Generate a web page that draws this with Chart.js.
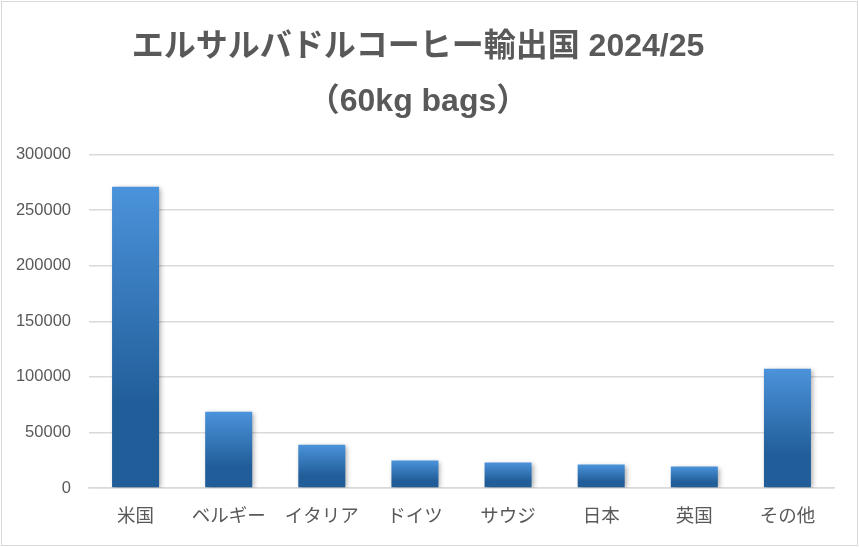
<!DOCTYPE html>
<html>
<head>
<meta charset="utf-8">
<script src="https://cdn.jsdelivr.net/npm/chart.js@4/dist/chart.umd.min.js"></script>
<style>
  html, body { margin: 0; padding: 0; background: #fff; }
  #wrap {
    position: relative;
    width: 855px;
    height: 543px;
    margin: 1px;
    border: 1px solid #d9d9d9;
  }
</style>
</head>
<body>
<div id="wrap"><canvas id="c"></canvas></div>
<script>
  var categories = ["米国", "ベルギー", "イタリア", "ドイツ", "サウジ", "日本", "英国", "その他"];
  var exports2425 = [271000, 68700, 39000, 24700, 22900, 21100, 19300, 107300];
  var titleLines = ["エルサルバドルコーヒー輸出国 2024/25", "（60kg bags）"];
  var yTicks = [0, 50000, 100000, 150000, 200000, 250000, 300000];

  var gray = "#595959";

  // per-bar gradient: light at the top, dark from ~72% down
  function barGradient(ctx) {
    var chart = ctx.chart;
    var y = chart.scales && chart.scales.y;
    if (!chart.chartArea || !y || ctx.raw == null) return "#2f6fb3";
    var top = y.getPixelForValue(ctx.raw);
    var base = y.getPixelForValue(0);
    if (!isFinite(top) || !isFinite(base) || base - top < 1) return "#2f6fb3";
    var g = chart.ctx.createLinearGradient(0, top, 0, base);
    g.addColorStop(0, "#4b93db");
    g.addColorStop(0.72, "#215e99");
    g.addColorStop(1, "#215e99");
    return g;
  }

  var barShadow = {
    id: "barShadow",
    beforeDatasetDraw: function (chart) {
      var c = chart.ctx;
      c.save();
      c.shadowColor = "rgba(0,0,0,0.35)";
      c.shadowBlur = 5;
      c.shadowOffsetX = 2;
      c.shadowOffsetY = 1;
    },
    afterDatasetDraw: function (chart) {
      chart.ctx.restore();
    }
  };

  var chart = new Chart(document.getElementById("c"), {
    type: "bar",
    data: {
      labels: categories,
      datasets: [{
        data: exports2425,
        backgroundColor: barGradient,
        borderWidth: 0,
        barPercentage: 0.505,
        categoryPercentage: 1
      }]
    },
    options: {
      responsive: true,
      maintainAspectRatio: false,
      animation: false,
      layout: { padding: { left: 0, right: 23, top: 0, bottom: 0 } },
      plugins: {
        legend: { display: false },
        tooltip: { enabled: false },
        title: {
          display: true,
          text: titleLines,
          color: gray,
          font: { family: "'Liberation Sans', 'Noto Sans CJK JP', sans-serif", size: 32, weight: "bold", lineHeight: 55 / 32 },
          padding: { top: 17.5, bottom: 25 }
        }
      },
      scales: {
        x: {
          grid: { display: false, drawTicks: false },
          border: { color: "#d9d9d9", width: 1.5 },
          ticks: {
            color: gray,
            padding: 16,
            font: { family: "'Noto Sans CJK JP', sans-serif", size: 18.5 }
          },
          afterFit: function (s) { s.height = 57; }
        },
        y: {
          min: 0,
          max: 300000,
          afterBuildTicks: function (s) {
            s.ticks = yTicks.map(function (v) { return { value: v }; });
          },
          grid: { color: "#d9d9d9", lineWidth: 1.5, drawTicks: false },
          border: { display: false },
          ticks: {
            color: gray,
            padding: 18,
            font: { family: "'Liberation Sans', Arial, sans-serif", size: 16.5 },
            callback: function (v) { return String(v); }
          },
          afterFit: function (s) { s.width = 87; }
        }
      }
    },
    plugins: [barShadow]
  });
  chart.update();
</script>
</body>
</html>
